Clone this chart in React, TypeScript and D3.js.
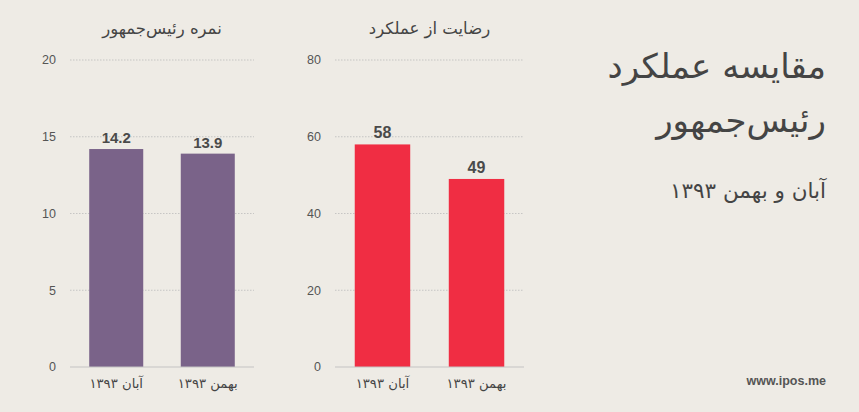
import * as d3 from "d3"

const categories = ["آبان ۱۳۹۳", "بهمن ۱۳۹۳"]
const scoreValues = [14.2, 13.9]
const satisfactionValues = [58, 49]
const scoreTicks = [0, 5, 10, 15, 20]
const satisfactionTicks = [0, 20, 40, 60, 80]

const W = 859
const H = 412
const BG = "#eeebe5"
const FA = "'DejaVu Sans', sans-serif"
const LAT = "'Liberation Sans', Arial, sans-serif"

type PanelProps = {
  title: string
  values: number[]
  ticks: number[]
  max: number
  x0: number
  x1: number
  color: string
  valueSize: number
}

function Panel({ title, values, ticks, max, x0, x1, color, valueSize }: PanelProps) {
  const y = d3.scaleLinear().domain([0, max]).range([367, 60])
  const x = d3.scaleBand<string>().domain(categories).range([x0, x1]).paddingInner(0.41).paddingOuter(0.21)
  return (
    <g>
      <text x={(x0 + x1) / 2} y={34} textAnchor="middle" fontFamily={FA} fontSize={16.5} fill="#444">
        {title}
      </text>
      {ticks.map((t) => (
        <g key={t}>
          {t > 0 && (
            <line x1={x0} x2={x1} y1={y(t)} y2={y(t)} stroke="#bbb" strokeWidth={0.8} strokeDasharray="1.5,1.5" />
          )}
          <text x={x0 - 14} y={y(t)} dy="0.35em" textAnchor="end" fontFamily={LAT} fontSize={12.5} fill="#555">
            {t}
          </text>
        </g>
      ))}
      {values.map((v, i) => (
        <g key={i}>
          <rect x={x(categories[i])} y={y(v)} width={x.bandwidth()} height={y(0) - y(v)} fill={color} />
          <text
            x={(x(categories[i]) ?? 0) + x.bandwidth() / 2}
            y={y(v) - 6}
            textAnchor="middle"
            fontFamily={LAT}
            fontWeight="bold"
            fontSize={valueSize}
            fill="#4a4a4a"
          >
            {v}
          </text>
          <text
            x={(x(categories[i]) ?? 0) + x.bandwidth() / 2}
            y={388}
            textAnchor="middle"
            fontFamily={FA}
            fontSize={13.2}
            fill="#444"
          >
            {categories[i]}
          </text>
        </g>
      ))}
      <line x1={x0} x2={x1} y1={y(0)} y2={y(0)} stroke="#c4c4c4" strokeWidth={1.2} />
    </g>
  )
}

export default function App() {
  return (
    <svg width={W} height={H} style={{ position: "absolute", left: 0, top: 0, background: BG }}>
      <rect width={W} height={H} fill={BG} />
      <Panel
        title="نمره رئیس‌جمهور"
        values={scoreValues}
        ticks={scoreTicks}
        max={20}
        x0={70}
        x1={254}
        color="#7a6389"
        valueSize={15}
      />
      <Panel
        title="رضایت از عملکرد"
        values={satisfactionValues}
        ticks={satisfactionTicks}
        max={80}
        x0={335}
        x1={524}
        color="#f02d43"
        valueSize={16}
      />
      <text x={826} y={78} textAnchor="end" fontFamily={FA} fontSize={34} fill="#444">
        مقایسه عملکرد
      </text>
      <text x={826} y={132} textAnchor="end" fontFamily={FA} fontSize={34} fill="#444">
        رئیس‌جمهور
      </text>
      <text x={826} y={198} textAnchor="end" fontFamily={FA} fontSize={21.5} fill="#444">
        آبان و بهمن ۱۳۹۳
      </text>
      <text x={826} y={385} textAnchor="end" fontFamily={LAT} fontWeight="bold" fontSize={12.5} fill="#555">
        www.ipos.me
      </text>
    </svg>
  )
}
